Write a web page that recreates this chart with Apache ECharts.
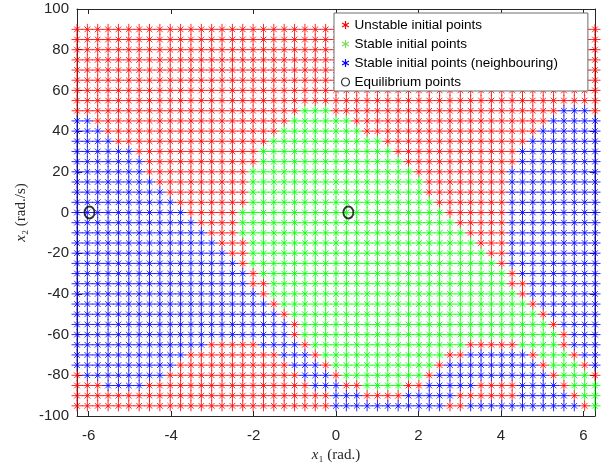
<!DOCTYPE html>
<html>
<head>
<meta charset="utf-8">
<script src="https://cdn.jsdelivr.net/npm/echarts@6/dist/echarts.min.js"></script>
<style>
  html, body { margin: 0; padding: 0; background: #fff; }
  #chart { width: 607px; height: 470px; }
</style>
</head>
<body>
<div id="chart"></div>
<script>
// grid of initial conditions: x1 columns (rad.), x2 rows (rad./s)
var xGrid = [-6.283, -6.032, -5.781, -5.529, -5.278, -5.027, -4.775, -4.524, -4.273, -4.021,
  -3.770, -3.519, -3.267, -3.016, -2.765, -2.513, -2.262, -2.011, -1.759, -1.508,
  -1.257, -1.005, -0.754, -0.503, -0.251, 0, 0.251, 0.503, 0.754, 1.005,
  1.257, 1.508, 1.759, 2.011, 2.262, 2.513, 2.765, 3.016, 3.267, 3.519,
  3.770, 4.021, 4.273, 4.524, 4.775, 5.027, 5.278, 5.529, 5.781, 6.032, 6.283];
var yGrid = [90, 85, 80, 75, 70, 65, 60, 55, 50, 45, 40, 35, 30, 25, 20, 15, 10, 5, 0,
  -5, -10, -15, -20, -25, -30, -35, -40, -45, -50, -55, -60, -65, -70, -75, -80, -85, -90, -95];

// class of every grid point, one row per yGrid entry, run-length: R unstable, G stable, B neighbouring
var rowRuns = [
  "R51", "R51", "R51", "R51", "R51", "R51", "R51", "R51",
  "R22G3R22B3R1",
  "B2R19G6R19B5",
  "B3R17G8R17B6",
  "B4R15G11R14B7",
  "B6R12G13R12B8",
  "B7R11G14R11B8",
  "B7R10G16R9B9",
  "B8R9G17R8B9",
  "B9R8G17R8B9",
  "B10R7G18R7B9",
  "B11R5G20R6B9",
  "B12R4G21R5B9",
  "B13R3G22R4B9",
  "B14R3G22R3B9",
  "B15R2G23R2B9",
  "B16R1G24R1B9",
  "B17R1G24R1B8",
  "B17R2G23R2B7",
  "B18R1G24R1B7",
  "B19R1G24R1B6",
  "B20R1G24R1B5",
  "B21R1G24R1B4",
  "B21R1G25R1B3",
  "B13R5B4R1G15R5G4R1B3",
  "B11R9B3R1G12R2B6R1G3R1B2",
  "B10R11B3R1G10R1B9R1G3R1B1",
  "R1B8R13B3R1G8R1B11R1G3R1",
  "R3B4R16B3R2G4R2B5R4B4R1G3",
  "R25B3R4B5R6B5R1G2",
  "R25B11R2B11R1G1"
];

var eqX = [-5.98, 0.30];
var eqY = [0, 0];

var xTicks = [-6, -4, -2, 0, 2, 4, 6];

var seriesNames = ['Unstable initial points', 'Stable initial points',
  'Stable initial points (neighbouring)', 'Equilibrium points'];
var starColors = { R: '#ff0000', G: '#00ff00', B: '#0000ff' };

var pts = { R: [], G: [], B: [] };
rowRuns.forEach(function (runs, j) {
  var k = 0;
  runs.replace(/([RGB])(\d+)/g, function (m, c, n) {
    for (var i = 0; i < +n; i++) {
      pts[c].push([xGrid[k], yGrid[j]]);
      k++;
    }
    return m;
  });
});

// matlab '*' marker: plus with a shorter x
var star = 'path://M0,50L100,50M50,0L50,100M24,24L76,76M24,76L76,24';
var legendStar = 'path://M50,0L50,100M7,25L93,75M7,75L93,25';
var axisColor = '#262626';

function starSeries(name, key) {
  return {
    name: name,
    type: 'scatter',
    symbol: star,
    symbolSize: 11,
    itemStyle: { color: 'none', borderColor: starColors[key], borderWidth: 1, opacity: 0.85 },
    emphasis: { disabled: true },
    data: pts[key]
  };
}

var myChart = echarts.init(document.getElementById('chart'));
myChart.setOption({
  animation: false,
  grid: { left: 77, right: 12, top: 9, bottom: 54 },
  legend: {
    orient: 'vertical',
    left: 334,
    top: 13,
    backgroundColor: '#fff',
    borderColor: '#6e6e6e',
    borderWidth: 1,
    borderRadius: 0,
    padding: [5, 30, 2, 5],
    itemGap: 5,
    itemWidth: 8,
    itemHeight: 8,
    textStyle: { fontFamily: 'Liberation Sans', fontSize: 13.5, color: '#000' },
    data: [
      { name: seriesNames[0], icon: legendStar, itemStyle: { color: 'none', borderColor: '#ff0000', borderWidth: 1.2, opacity: 1 } },
      { name: seriesNames[1], icon: legendStar, itemStyle: { color: 'none', borderColor: '#7fdc5a', borderWidth: 1.2, opacity: 1 } },
      { name: seriesNames[2], icon: legendStar, itemStyle: { color: 'none', borderColor: '#0000ff', borderWidth: 1.2, opacity: 1 } },
      { name: seriesNames[3], icon: 'circle', itemStyle: { color: 'none', borderColor: '#000', borderWidth: 1.2 } }
    ]
  },
  xAxis: [
    {
      type: 'value',
      min: -2 * Math.PI,
      max: 2 * Math.PI,
      name: '{i|x}\u2081 (rad.)',
      nameLocation: 'middle',
      nameGap: 31,
      nameTextStyle: {
        fontFamily: 'Liberation Serif', fontSize: 15, color: axisColor,
        rich: { i: { fontFamily: 'Liberation Serif', fontStyle: 'italic', fontSize: 15, color: axisColor } }
      },
      axisLine: { onZero: false, lineStyle: { color: axisColor, width: 1 } },
      axisTick: { inside: true, length: 5, customValues: xTicks, lineStyle: { color: axisColor } },
      axisLabel: { customValues: xTicks, margin: 12, fontFamily: 'Liberation Sans', fontSize: 15, color: axisColor },
      splitLine: { show: false }
    },
    {
      type: 'value',
      position: 'top',
      min: -2 * Math.PI,
      max: 2 * Math.PI,
      axisLine: { onZero: false, lineStyle: { color: axisColor, width: 1 } },
      axisTick: { inside: true, length: 5, customValues: xTicks, lineStyle: { color: axisColor } },
      axisLabel: { show: false },
      splitLine: { show: false }
    }
  ],
  yAxis: [
    {
      type: 'value',
      min: -100,
      max: 100,
      interval: 20,
      name: '{i|x}\u2082 (rad./s)',
      nameLocation: 'middle',
      nameGap: 41,
      nameTextStyle: {
        fontFamily: 'Liberation Serif', fontSize: 15, color: axisColor,
        rich: { i: { fontFamily: 'Liberation Serif', fontStyle: 'italic', fontSize: 15, color: axisColor } }
      },
      axisLine: { onZero: false, lineStyle: { color: axisColor, width: 1 } },
      axisTick: { inside: true, length: 5, lineStyle: { color: axisColor } },
      axisLabel: { margin: 8, fontFamily: 'Liberation Sans', fontSize: 15, color: axisColor },
      splitLine: { show: false }
    },
    {
      type: 'value',
      position: 'right',
      min: -100,
      max: 100,
      interval: 20,
      axisLine: { onZero: false, lineStyle: { color: axisColor, width: 1 } },
      axisTick: { inside: true, length: 5, lineStyle: { color: axisColor } },
      axisLabel: { show: false },
      splitLine: { show: false }
    }
  ],
  series: [
    starSeries(seriesNames[0], 'R'),
    starSeries(seriesNames[1], 'G'),
    starSeries(seriesNames[2], 'B'),
    {
      name: seriesNames[3],
      type: 'scatter',
      symbol: 'circle',
      symbolSize: [10, 12],
      itemStyle: { color: 'none', borderColor: '#000', borderWidth: 2 },
      emphasis: { disabled: true },
      z: 3,
      data: eqX.map(function (x, i) { return [x, eqY[i]]; })
    }
  ]
});
</script>
</body>
</html>
